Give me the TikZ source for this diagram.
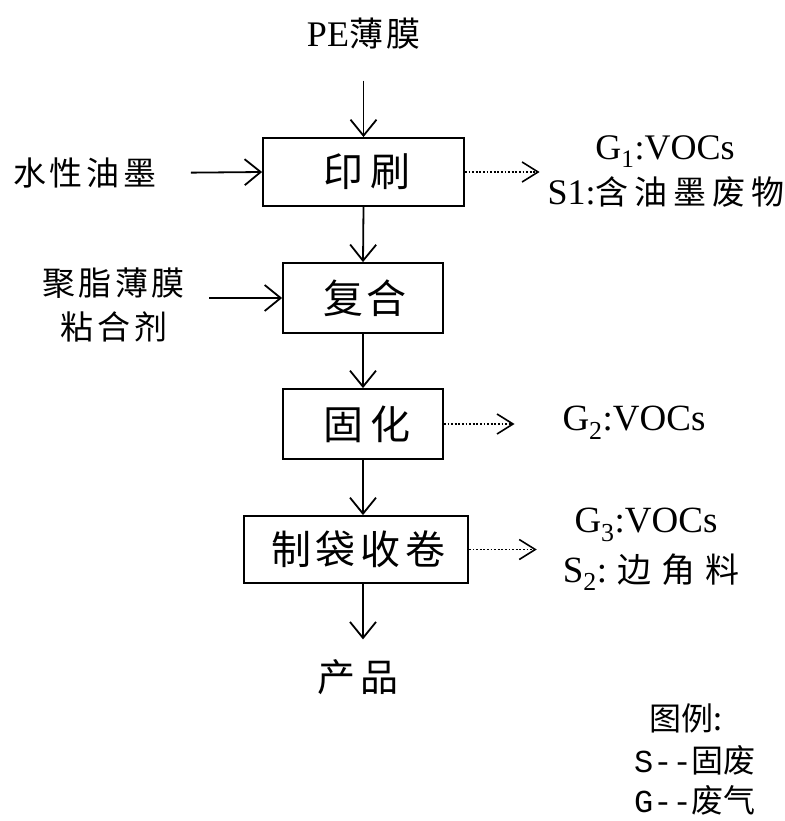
\documentclass[tikz,border=0pt]{standalone}
\usepackage{fontspec}
\setmainfont{Liberation Serif}
\newfontfamily\cjk{Noto Sans CJK SC}
\newfontfamily\legmono{Liberation Mono}
\usetikzlibrary{arrows.meta}
\newcommand\myfs[1]{\fontsize{#1}{#1}\selectfont}
\newcommand\cjs[3]{{\myfs{#1}\cjk\addfontfeatures{LetterSpace=#2}#3\kern-#2\dimexpr0.01em\relax}}
\tikzset{
  procbox/.style={draw, line width=1.8pt, inner sep=0pt},
  lbl/.style={inner sep=0pt, outer sep=0pt},
  arr/.style={line width=1.8pt, -{Straight Barb[length=16pt,width=26pt]}},
  darr/.style={line width=1.6pt, dash pattern=on 1.8pt off 1.8pt, -{Straight Barb[length=16pt,width=20pt]}}
}
\begin{document}
\begin{tikzpicture}[x=1pt,y=-1pt]
\useasboundingbox (0,0) rectangle (784,821);
% process boxes
\node[procbox, minimum width=201pt, minimum height=68pt] (yy) at (363.5,172) {\cjs{40}{18}{印刷}};
\node[procbox, minimum width=160pt, minimum height=70pt] (fh) at (363,298) {\cjs{40}{8}{复合}};
\node[procbox, minimum width=160pt, minimum height=70pt] (gh) at (363,424) {\cjs{40}{18}{固化}};
\node[procbox, minimum width=224pt, minimum height=67pt] (zd) at (356,549.5) {\cjs{40}{12}{制袋收卷}};
% inputs / outputs
\node[lbl] (pe) at (362,34) {{\myfs{36}PE}\cjs{34}{10}{薄膜}};
\node[lbl] (sy) at (83,173) {\cjs{33}{12}{水性油墨}};
\node[lbl] (jz1) at (112,283) {\cjs{33}{10}{聚脂薄膜}};
\node[lbl] (jz2) at (112,327) {\cjs{33}{12}{粘合剂}};
\node[lbl] (cp) at (355,677) {\cjs{38}{14}{产品}};
% emissions
\node[lbl] (g1) at (665,152) {\myfs{36}G\textsubscript{1}:VOCs};
\node[lbl] (s1) at (663,192) {{\myfs{36}S1:}\cjs{33}{18}{含油墨废物}};
\node[lbl] (g2) at (634,423) {\myfs{37}G\textsubscript{2}:VOCs};
\node[lbl] (g3) at (646,525) {\myfs{37}G\textsubscript{3}:VOCs};
\node[lbl] (s2) at (646,572) {{\myfs{37}S\textsubscript{2}:}\hspace{10pt}\cjs{34}{30}{边角料}};
% legend
\node[lbl] (lg0) at (686,718) {\cjs{32}{0}{图例:}};
\node[lbl] (lg1) at (695,760) {{\myfs{32}\legmono S--}\cjs{32}{0}{固废}};
\node[lbl] (lg2) at (695,800) {{\myfs{32}\legmono G--}\cjs{32}{0}{废气}};
% main flow
\draw[arr, shorten <=31pt] (pe.south -| yy.north) -- (yy.north);
\draw[arr] (yy.south) -- (fh.north);
\draw[arr] (fh.south) -- (gh.north);
\draw[arr] (gh.south) -- (gh.south |- zd.north);
\draw[arr, shorten >=20pt] (gh.south |- zd.south) -- (gh.south |- cp.north);
% side inputs
\draw[arr, shorten <=38pt] (sy.east) -- (yy.west);
\draw[arr, shorten <=28pt] (jz1.east |- fh.west) -- (fh.west);
% emissions arrows
\draw[darr, shorten >=8pt] (yy.east) -- (yy.east -| s1.west);
\draw[darr, shorten >=48pt] (gh.east) -- (gh.east -| g2.west);
\draw[darr, shorten >=26pt] (zd.east) -- (zd.east -| s2.west);
\end{tikzpicture}
\end{document}
